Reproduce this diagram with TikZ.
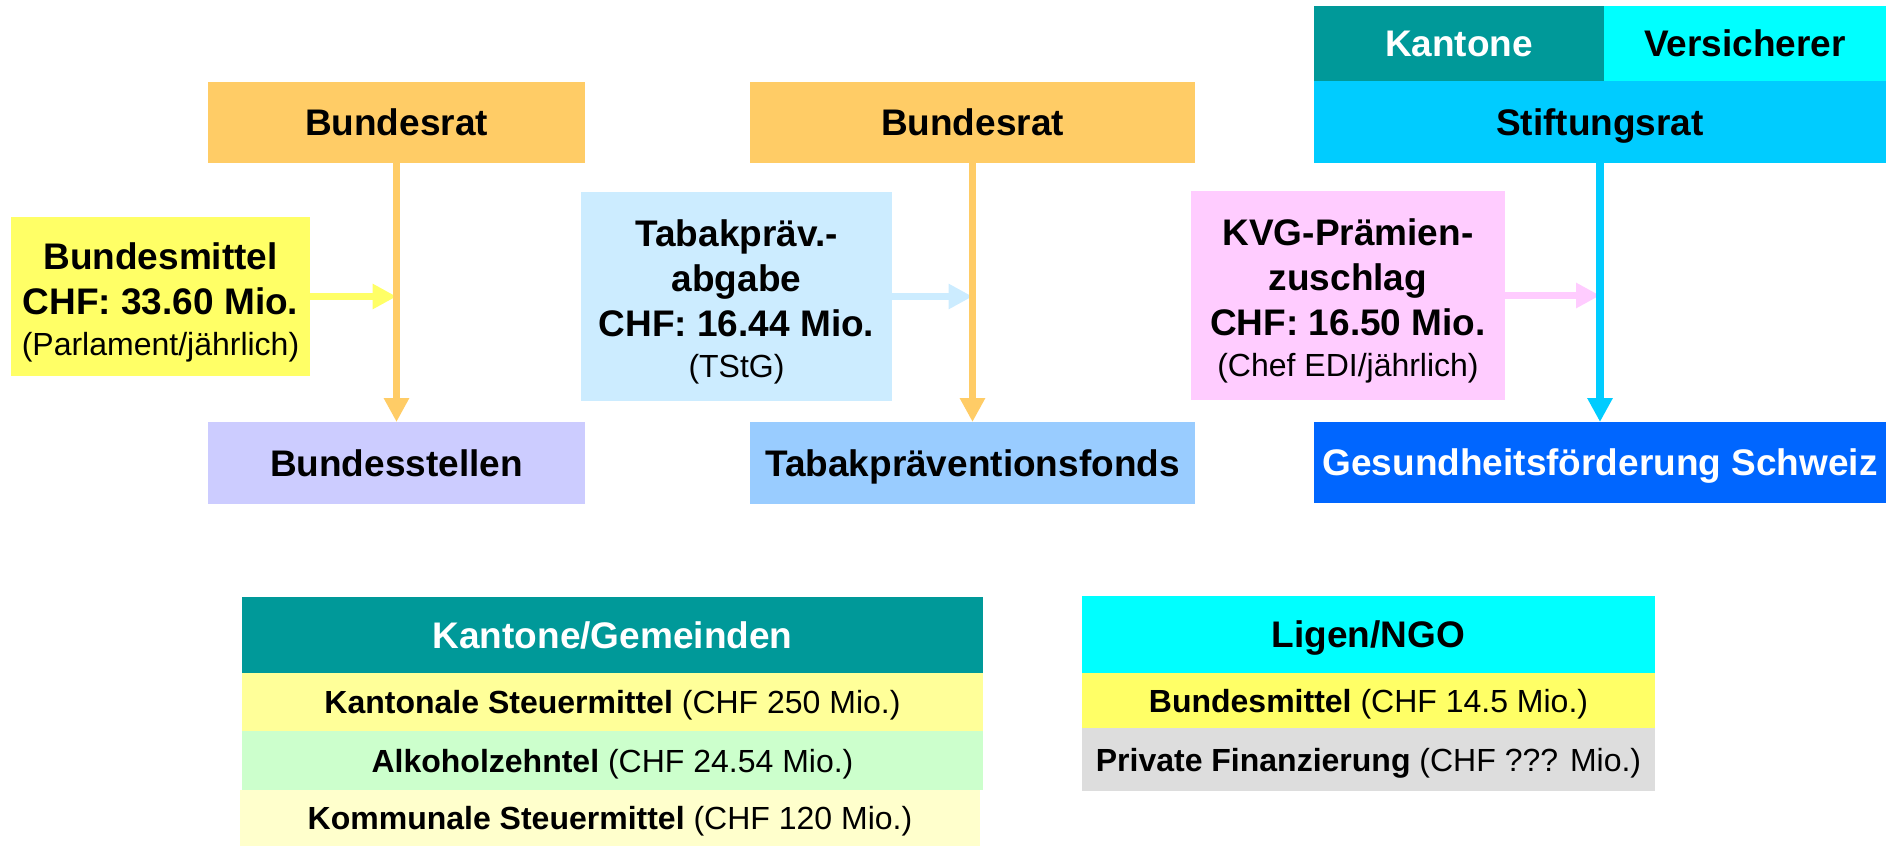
\documentclass[tikz,border=0pt]{standalone}
\usepackage{fontspec}
\setmainfont{Liberation Sans}
\usetikzlibrary{arrows.meta}
\definecolor{rat}{HTML}{FFCC66}
\definecolor{bund}{HTML}{FFFF66}
\definecolor{stellen}{HTML}{CCCCFF}
\definecolor{tabak}{HTML}{CCECFF}
\definecolor{fonds}{HTML}{99CCFF}
\definecolor{kanton}{HTML}{009999}
\definecolor{versich}{HTML}{00FFFF}
\definecolor{stiftung}{HTML}{00CCFF}
\definecolor{kvg}{HTML}{FFCCFF}
\definecolor{gfs}{HTML}{0066FF}
\definecolor{kantsteuer}{HTML}{FFFF99}
\definecolor{alkohol}{HTML}{CCFFCC}
\definecolor{kommsteuer}{HTML}{FFFFCC}
\definecolor{privat}{HTML}{DDDDDD}
\newcommand{\subline}[1]{{\mdseries\fontsize{16}{19}\selectfont #1}}
\newcommand{\topgap}{\rule{0pt}{18.5pt}}
\begin{document}
\begin{tikzpicture}[x=0.5pt,y=-0.5pt,
    box/.style={inner sep=0pt,outer sep=0pt,align=center,font=\fontsize{18.5}{22.5}\selectfont\bfseries},
    head/.style={box,text height=13.3pt,text depth=0pt},
    row/.style={inner sep=0pt,outer sep=0pt,text height=11.5pt,text depth=0pt,font=\fontsize{16}{19}\selectfont},
    flow/.style={line width=3.7pt,-{Triangle[length=12pt,width=12pt]}}]
  \useasboundingbox (0,0) rectangle (1886,846);
  % Bundesmittel
  \node[head,fill=rat,minimum width=188.5pt,minimum height=40.5pt] (br1) at (396.5,122.5) {Bundesrat};
  \node[box,fill=bund,minimum width=149.5pt,minimum height=79.5pt] (bm) at (160.5,296.5) {\rule{0pt}{19.5pt}Bundesmittel\\CHF: 33.60 Mio.\\[-2pt]\subline{(Parlament/jährlich)}};
  \node[head,fill=stellen,minimum width=188.5pt,minimum height=41pt] (bst) at (396.5,463) {Bundesstellen};
  % Tabakpraevention
  \node[head,fill=rat,minimum width=222.5pt,minimum height=40.5pt] (br2) at (972.5,122.5) {Bundesrat};
  \node[box,fill=tabak,minimum width=155.5pt,minimum height=104.5pt] (tab) at (736.5,296.5) {\topgap Tabakpräv.-\\abgabe\\CHF: 16.44 Mio.\\[-2pt]\subline{(TStG)}};
  \node[head,fill=fonds,minimum width=222.5pt,minimum height=41pt] (tpf) at (972.5,463) {Tabakpräventionsfonds};
  % Gesundheitsfoerderung
  \node[head,fill=kanton,text=white,minimum width=145pt,minimum height=37.5pt] (kt) at (1459,43.5) {Kantone};
  \node[head,fill=versich,minimum width=141pt,minimum height=37.5pt] (vs) at (1745,43.5) {Versicherer};
  \node[head,fill=stiftung,minimum width=286pt,minimum height=41pt] (sr) at (1600,122) {Stiftungsrat};
  \node[box,fill=kvg,minimum width=157pt,minimum height=104.5pt] (kvg) at (1348,295.5) {\topgap KVG-Prämien-\\zuschlag\\CHF: 16.50 Mio.\\[-2pt]\subline{(Chef EDI/jährlich)}};
  \node[head,fill=gfs,text=white,minimum width=286pt,minimum height=40.5pt] (gf) at (1600,462.5) {Gesundheitsförderung Schweiz};
  \draw[flow,bund] (bm.east) -- (bm.east -| br1.south);
  \draw[flow,tabak] (tab.east) -- (tab.east -| br2.south);
  \draw[flow,kvg] (kvg.east) -- (kvg.east -| sr.south);
  \draw[flow,rat] (br1) -- (bst);
  \draw[flow,rat] (br2) -- (tpf);
  \draw[flow,stiftung] (sr) -- (gf);
  % Kantone/Gemeinden
  \node[head,fill=kanton,text=white,minimum width=370.5pt,minimum height=38pt] (kg) at (612.5,635) {Kantone/Gemeinden};
  \node[row,fill=kantsteuer,minimum width=370.5pt,minimum height=29pt] (ksm) at (612.5,702) {\textbf{Kantonale Steuermittel} (CHF 250 Mio.)};
  \node[row,fill=alkohol,minimum width=370.5pt,minimum height=29.5pt] (alk) at (612.5,760.5) {\textbf{Alkoholzehntel} (CHF 24.54 Mio.)};
  \node[row,fill=kommsteuer,minimum width=370pt,minimum height=28pt] (kom) at (610,818) {\textbf{Kommunale Steuermittel} (CHF 120 Mio.)};
  % Ligen/NGO
  \node[head,fill=versich,minimum width=286.5pt,minimum height=38.5pt] (ngo) at (1368.5,634.5) {Ligen/NGO};
  \node[row,fill=bund,minimum width=286.5pt,minimum height=27.5pt] (lbm) at (1368.5,700.5) {\textbf{Bundesmittel} (CHF 14.5 Mio.)};
  \node[row,fill=privat,minimum width=286.5pt,minimum height=31.5pt] (lpf) at (1368.5,759.5) {\textbf{Private Finanzierung} (CHF ??? Mio.)};
\end{tikzpicture}
\end{document}
